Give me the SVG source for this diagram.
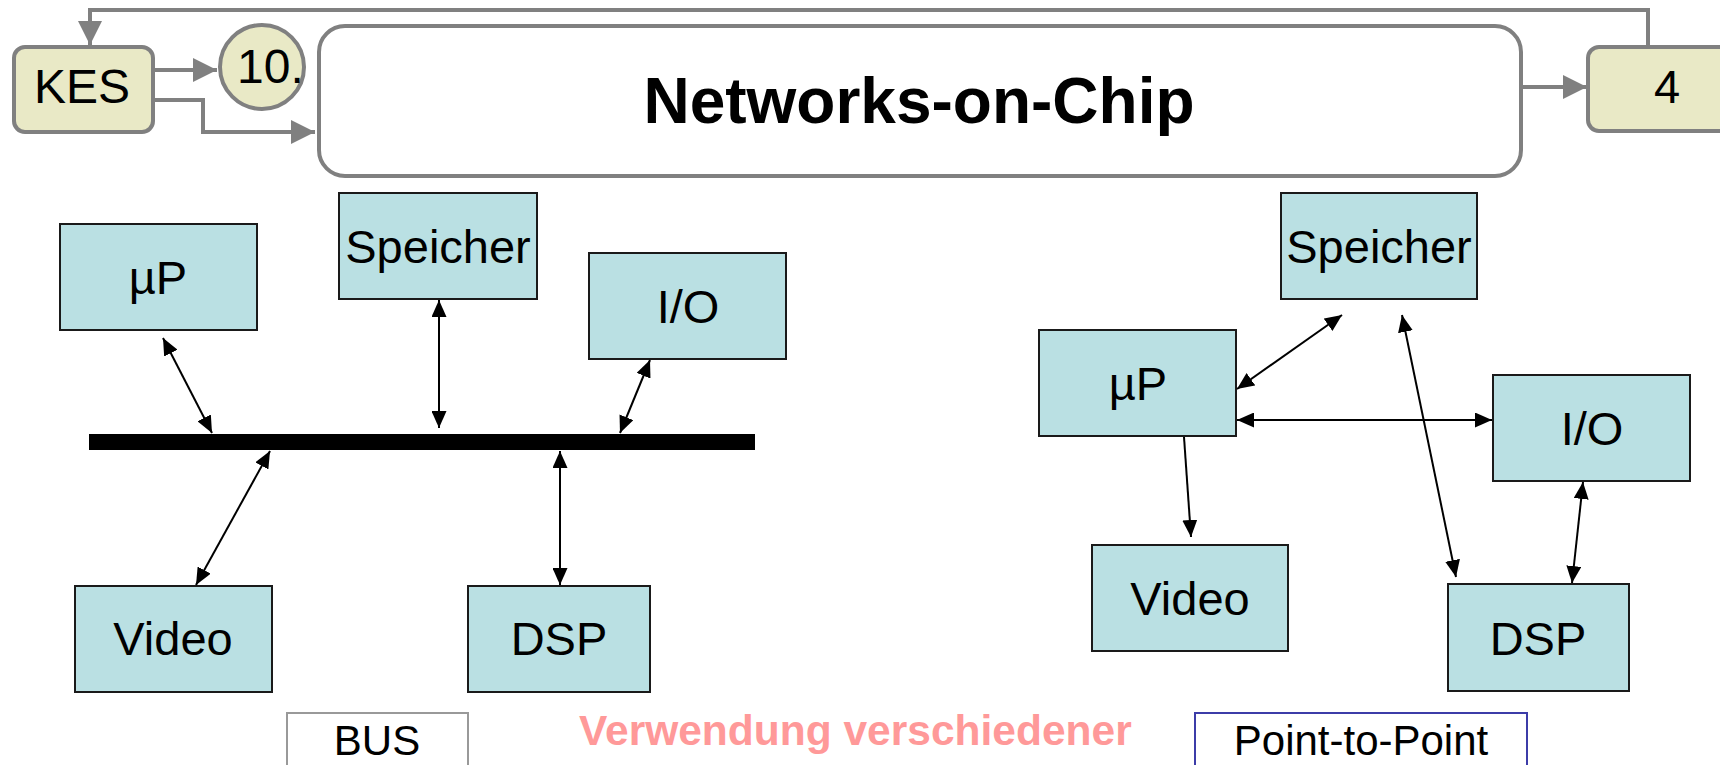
<svg xmlns="http://www.w3.org/2000/svg" width="1720" height="765" viewBox="0 0 1720 765">
  <style>
    text { font-family: "Liberation Sans", Arial, sans-serif; fill: #000; }
    .flow { fill: none; stroke: #808080; stroke-width: 4; }
    .tag { fill: #e9e9c6; stroke: #808080; stroke-width: 4; }
    .unit { fill: #bae0e3; stroke: #1a1a1a; stroke-width: 2; }
    .unit-label { font-size: 47px; text-anchor: middle; }
    .link { fill: none; stroke: #000; stroke-width: 2; }
    .caption { font-size: 42px; text-anchor: middle; }
  </style>
  <defs>
    <marker id="grayHead" markerUnits="userSpaceOnUse" markerWidth="24" markerHeight="24" refX="24" refY="12" orient="auto">
      <path d="M0,0 L24,12 L0,24 Z" fill="#808080"/>
    </marker>
    <marker id="blackHead" markerUnits="userSpaceOnUse" markerWidth="17" markerHeight="15" refX="17" refY="7.5" orient="auto-start-reverse">
      <path d="M0,0 L17,7.5 L0,15 Z" fill="#000"/>
    </marker>
  </defs>

  <!-- navigation strip -->
  <g id="connectors-nav">
    <path class="flow" d="M1648,47 V10 H90 V45" marker-end="url(#grayHead)"/>
    <path class="flow" d="M153,70 H217" marker-end="url(#grayHead)"/>
    <path class="flow" d="M153,100 H203 V132 H315" marker-end="url(#grayHead)"/>
    <path class="flow" d="M1521,87 H1587" marker-end="url(#grayHead)"/>
  </g>
  <g id="kes">
    <rect class="tag" x="14" y="47" width="139" height="85" rx="11"/>
    <text x="82" y="103" font-size="48" text-anchor="middle">KES</text>
  </g>
  <g id="chapter">
    <circle class="tag" cx="262" cy="67" r="42"/>
    <text x="237" y="83" font-size="48">10.</text>
  </g>
  <g id="title">
    <rect x="319" y="26" width="1202" height="150" rx="26" fill="#fff" stroke="#808080" stroke-width="4"/>
    <text x="919" y="123" font-size="64" font-weight="bold" text-anchor="middle">Networks-on-Chip</text>
  </g>
  <g id="page">
    <rect class="tag" x="1588" y="47" width="170" height="84" rx="11"/>
    <text x="1667" y="103" font-size="47" text-anchor="middle">4</text>
  </g>

  <!-- bus topology -->
  <rect id="bus-line" x="89" y="434" width="666" height="16" fill="#000"/>
  <g id="bus-up">
    <rect class="unit" x="60" y="224" width="197" height="106"/>
    <text class="unit-label" x="158" y="294">µP</text>
  </g>
  <g id="bus-mem">
    <rect class="unit" x="339" y="193" width="198" height="106"/>
    <text class="unit-label" x="438" y="263">Speicher</text>
  </g>
  <g id="bus-io">
    <rect class="unit" x="589" y="253" width="197" height="106"/>
    <text class="unit-label" x="688" y="323">I/O</text>
  </g>
  <g id="bus-video">
    <rect class="unit" x="75" y="586" width="197" height="106"/>
    <text class="unit-label" x="173" y="655">Video</text>
  </g>
  <g id="bus-dsp">
    <rect class="unit" x="468" y="586" width="182" height="106"/>
    <text class="unit-label" x="559" y="655">DSP</text>
  </g>

  <!-- point-to-point topology -->
  <g id="p2p-mem">
    <rect class="unit" x="1281" y="193" width="196" height="106"/>
    <text class="unit-label" x="1379" y="263">Speicher</text>
  </g>
  <g id="p2p-up">
    <rect class="unit" x="1039" y="330" width="197" height="106"/>
    <text class="unit-label" x="1138" y="400">µP</text>
  </g>
  <g id="p2p-io">
    <rect class="unit" x="1493" y="375" width="197" height="106"/>
    <text class="unit-label" x="1592" y="445">I/O</text>
  </g>
  <g id="p2p-video">
    <rect class="unit" x="1092" y="545" width="196" height="106"/>
    <text class="unit-label" x="1190" y="615">Video</text>
  </g>
  <g id="p2p-dsp">
    <rect class="unit" x="1448" y="584" width="181" height="107"/>
    <text class="unit-label" x="1538" y="655">DSP</text>
  </g>

  <g id="connectors">
    <line class="link" x1="163" y1="338" x2="212" y2="433" marker-start="url(#blackHead)" marker-end="url(#blackHead)"/>
    <line class="link" x1="439" y1="300" x2="439" y2="428" marker-start="url(#blackHead)" marker-end="url(#blackHead)"/>
    <line class="link" x1="650" y1="360" x2="620" y2="433" marker-start="url(#blackHead)" marker-end="url(#blackHead)"/>
    <line class="link" x1="270" y1="451" x2="196" y2="585" marker-start="url(#blackHead)" marker-end="url(#blackHead)"/>
    <line class="link" x1="560" y1="451" x2="560" y2="585" marker-start="url(#blackHead)" marker-end="url(#blackHead)"/>

    <line class="link" x1="1237" y1="389" x2="1342" y2="315" marker-start="url(#blackHead)" marker-end="url(#blackHead)"/>
    <line class="link" x1="1237" y1="420" x2="1492" y2="420" marker-start="url(#blackHead)" marker-end="url(#blackHead)"/>
    <line class="link" x1="1402" y1="315" x2="1456" y2="577" marker-start="url(#blackHead)" marker-end="url(#blackHead)"/>
    <line class="link" x1="1184" y1="437" x2="1191" y2="537" marker-end="url(#blackHead)"/>
    <line class="link" x1="1583" y1="482" x2="1572" y2="583" marker-start="url(#blackHead)" marker-end="url(#blackHead)"/>
  </g>

  <!-- captions -->
  <g id="caption-bus">
    <rect x="287" y="713" width="181" height="80" fill="#fff" stroke="#999" stroke-width="2"/>
    <text class="caption" x="377" y="755">BUS</text>
  </g>
  <text id="caption-mid" x="579" y="745" font-size="42.5" font-weight="bold" style="fill:#ff9999">Verwendung verschiedener</text>
  <g id="caption-p2p">
    <rect x="1195" y="713" width="332" height="80" fill="#fff" stroke="#3c3ca8" stroke-width="2"/>
    <text class="caption" x="1361" y="755">Point-to-Point</text>
  </g>
</svg>
